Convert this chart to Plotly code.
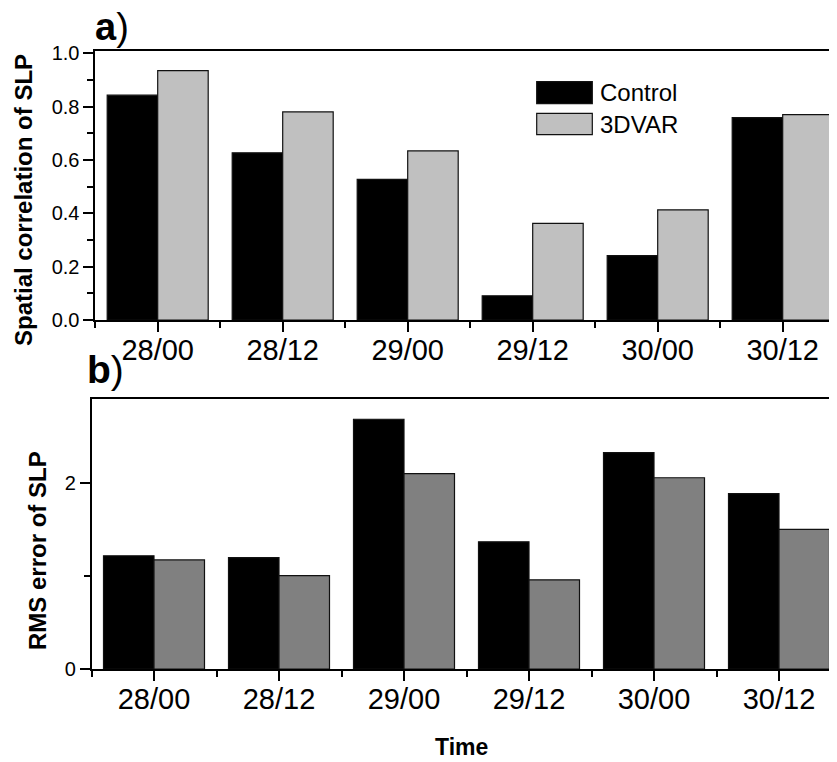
import plotly.graph_objects as go

# ---------------- data ----------------
categories = ["28/00", "28/12", "29/00", "29/12", "30/00", "30/12"]
series_names = ["Control", "3DVAR"]
corr_control = [0.843, 0.627, 0.527, 0.091, 0.241, 0.759]
corr_3dvar = [0.935, 0.780, 0.634, 0.362, 0.413, 0.770]
rms_control = [1.22, 1.20, 2.69, 1.37, 2.33, 1.89]
rms_3dvar = [1.175, 1.005, 2.105, 0.96, 2.06, 1.505]
corr_ticks = [0.0, 0.2, 0.4, 0.6, 0.8, 1.0]
rms_ticks = [0, 2]

W, H = 837, 762
OFF = 8  # page body margin of the html page
FONT = "Liberation Sans, Arial, sans-serif"
xpos = list(range(len(categories)))


def px(x):
    return (x - OFF) / W


def py(y):
    return 1 - (y - OFF) / H


fig = go.Figure()
edge = dict(color="#111111", width=1.2)
fig.add_bar(x=xpos, y=corr_control, name=series_names[0], xaxis="x", yaxis="y",
            marker=dict(color="black", line=edge), showlegend=False)
fig.add_bar(x=xpos, y=corr_3dvar, name=series_names[1], xaxis="x", yaxis="y",
            marker=dict(color="#c0c0c0", line=edge), showlegend=False)
fig.add_bar(x=xpos, y=rms_control, name=series_names[0], xaxis="x2", yaxis="y2",
            marker=dict(color="black", line=edge), showlegend=False)
fig.add_bar(x=xpos, y=rms_3dvar, name=series_names[1], xaxis="x2", yaxis="y2",
            marker=dict(color="#808080", line=edge), showlegend=False)

axis_common = dict(showline=True, linecolor="black", linewidth=1.5, showgrid=False,
                   zeroline=False, automargin=False, ticks="outside", tickcolor="black",
                   tickwidth=1.5, ticklen=10)

minor_x = dict(tickmode="array", tickvals=[i - 0.5 for i in range(len(categories) + 1)],
               ticks="outside", ticklen=6, tickwidth=1.5, tickcolor="black", showgrid=False)

top_left, bot_left = 95.2, 91.5
fig.update_layout(
    width=W, height=H,
    margin=dict(l=0, r=0, t=0, b=0),
    paper_bgcolor="white", plot_bgcolor="white",
    barmode="group", bargap=0.192, bargroupgap=0,
    font=dict(family=FONT, color="black"),
    xaxis=dict(axis_common, domain=[px(top_left), 1.0], anchor="y",
               range=[-0.5, -0.5 + (W + OFF - top_left) / 125],
               tickmode="array", tickvals=xpos, ticktext=categories, mirror=True,
               tickfont=dict(size=29), ticklabelstandoff=-7, minor=minor_x),
    yaxis=dict(axis_common, domain=[py(320), py(51)], anchor="x", range=[0, 1.0086],
               tickmode="array", tickvals=corr_ticks, tickformat=".1f",
               tickfont=dict(size=20),
               minor=dict(tickmode="array", tickvals=[0.1, 0.3, 0.5, 0.7, 0.9],
                          ticks="outside", ticklen=6, tickwidth=1.5, tickcolor="black")),
    xaxis2=dict(axis_common, domain=[px(bot_left), 1.0], anchor="y2",
                range=[-0.5, -0.5 + (W + OFF - bot_left) / 125],
                tickmode="array", tickvals=xpos, ticktext=categories, mirror=True,
                tickfont=dict(size=29), ticklabelstandoff=-7, minor=minor_x),
    yaxis2=dict(axis_common, domain=[py(669), py(399.3)], anchor="x2", range=[0, 2.905],
                tickmode="array", tickvals=rms_ticks, tickfont=dict(size=20),
                minor=dict(tickmode="array", tickvals=[1],
                           ticks="outside", ticklen=6, tickwidth=1.5, tickcolor="black")),
)

# legend drawn manually
shapes = [
    dict(type="rect", xref="paper", yref="paper", x0=px(536.7), x1=px(592.3),
         y0=py(103.7), y1=py(81.7), fillcolor="black", line=dict(color="#111111", width=1.2)),
    dict(type="rect", xref="paper", yref="paper", x0=px(536.7), x1=px(592.3),
         y0=py(134.7), y1=py(113.3), fillcolor="#c0c0c0", line=dict(color="#111111", width=1.2)),
]
fig.update_layout(shapes=shapes)

ann = [
    dict(text=series_names[0], x=px(598), y=py(92), xanchor="left", yanchor="middle",
         font=dict(size=24)),
    dict(text=series_names[1], x=px(598), y=py(124), xanchor="left", yanchor="middle",
         font=dict(size=24)),
    dict(text="<b>Spatial correlation of SLP</b>", x=px(23), y=py(200), textangle=-90,
         xanchor="center", yanchor="middle", font=dict(size=24)),
    dict(text="<b>RMS error of SLP</b>", x=px(37), y=py(551), textangle=-90,
         xanchor="center", yanchor="middle", font=dict(size=24)),
    dict(text="<b>Time</b>", x=px(461), y=py(747), xanchor="center", yanchor="middle",
         font=dict(size=23)),
    dict(text="<b>a</b>)", x=px(93), y=py(27), xanchor="left", yanchor="middle",
         font=dict(size=38)),
    dict(text="<b>b</b>)", x=px(85), y=py(369), xanchor="left", yanchor="middle",
         font=dict(size=39)),
]
for a in ann:
    a.update(xref="paper", yref="paper", showarrow=False)
fig.update_layout(annotations=ann)

fig.write_html("out.html")
